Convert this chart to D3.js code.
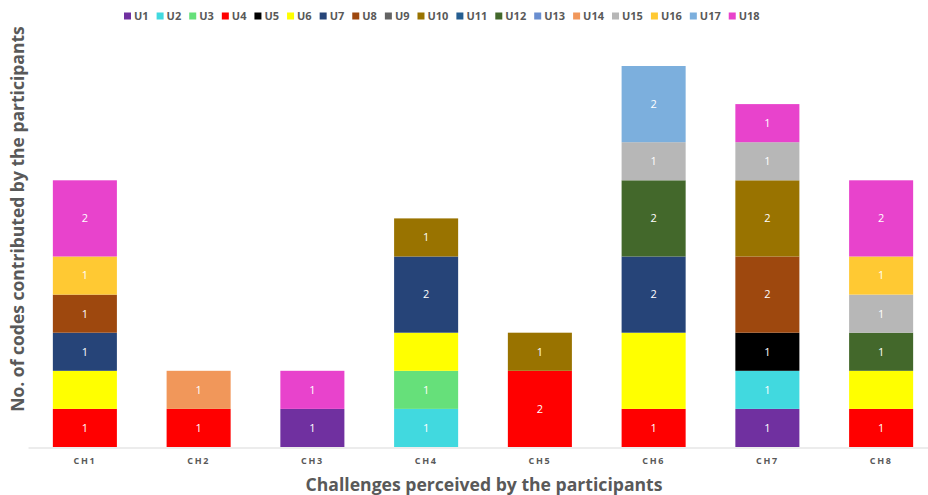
<!DOCTYPE html>
<html>
<head>
<meta charset="utf-8">
<script src="https://cdn.jsdelivr.net/npm/d3@7"></script>
<style>
  body { margin: 0; background: #fff; }
  svg { display: block; font-family: "Open Sans", "Liberation Sans", sans-serif; }
</style>
</head>
<body>
<svg id="chart" width="928" height="495"></svg>
<script>
// Challenges (x categories)
const challenges = ["CH1", "CH2", "CH3", "CH4", "CH5", "CH6", "CH7", "CH8"];
// Participants (stack series, bottom to top)
const participants = ["U1","U2","U3","U4","U5","U6","U7","U8","U9","U10","U11","U12","U13","U14","U15","U16","U17","U18"];
const participantColors = ["#7030A0","#41D9DF","#66E07A","#FF0000","#000000","#FFFF00","#264478","#9E480E","#636363","#997300","#255E91","#43682B","#698ED0","#F1975A","#B7B7B7","#FFC933","#7CAFDD","#E843CC"];

// Codes contributed by each participant, per challenge (CH1..CH8)
const U1  = [0,0,1,0,0,0,1,0];
const U2  = [0,0,0,1,0,0,1,0];
const U3  = [0,0,0,1,0,0,0,0];
const U4  = [1,1,0,0,2,1,0,1];
const U5  = [0,0,0,0,0,0,1,0];
const U6  = [1,0,0,1,0,2,0,1];
const U7  = [1,0,0,2,0,2,0,0];
const U8  = [1,0,0,0,0,0,2,0];
const U9  = [0,0,0,0,0,0,0,0];
const U10 = [0,0,0,1,1,0,2,0];
const U11 = [0,0,0,0,0,0,0,0];
const U12 = [0,0,0,0,0,2,0,1];
const U13 = [0,0,0,0,0,0,0,0];
const U14 = [0,1,0,0,0,0,0,0];
const U15 = [0,0,0,0,0,1,1,1];
const U16 = [1,0,0,0,0,0,0,1];
const U17 = [0,0,0,0,0,2,0,0];
const U18 = [2,0,1,0,0,0,1,2];
const seriesValues = [U1,U2,U3,U4,U5,U6,U7,U8,U9,U10,U11,U12,U13,U14,U15,U16,U17,U18];

const xTitle = "Challenges perceived by the participants";
const yTitle = "No. of codes contributed by the participants";

const table = challenges.map((c, i) => {
  const row = { challenge: c };
  participants.forEach((p, j) => { row[p] = seriesValues[j][i]; });
  return row;
});

const svg = d3.select("#chart");
const grey = "#595959";

const x = d3.scaleBand().domain(challenges).range([28, 938]).paddingInner(0.437).paddingOuter(0.2185);
const y = d3.scaleLinear().domain([0, 10]).range([447, 66]);
const color = d3.scaleOrdinal().domain(participants).range(participantColors);

const stacked = d3.stack().keys(participants)(table);

// Bars
const layers = svg.append("g").selectAll("g")
  .data(stacked).join("g")
  .attr("fill", d => color(d.key));

layers.selectAll("rect")
  .data(d => d.map(s => ({ key: d.key, s })))
  .join("rect")
  .filter(d => d.s[1] - d.s[0] > 0)
  .attr("x", d => x(d.s.data.challenge))
  .attr("y", d => y(d.s[1]))
  .attr("width", x.bandwidth())
  .attr("height", d => y(d.s[0]) - y(d.s[1]));

// Value labels (white, so they vanish on the yellow U6 segments)
const labels = [];
stacked.forEach(layer => layer.forEach(s => {
  const v = s[1] - s[0];
  if (v > 0 && layer.key !== "U6") labels.push({ v, s });
}));
svg.append("g").selectAll("text")
  .data(labels).join("text")
  .attr("x", d => x(d.s.data.challenge) + x.bandwidth() / 2)
  .attr("y", d => (y(d.s[0]) + y(d.s[1])) / 2)
  .attr("dy", "0.35em")
  .attr("text-anchor", "middle")
  .attr("fill", "#fff")
  .attr("font-size", 11)
  .text(d => d.v);

// X axis
const xAxis = svg.append("g")
  .attr("transform", "translate(0,447.5)")
  .call(d3.axisBottom(x).tickSize(0).tickPadding(10));
xAxis.select(".domain").attr("stroke", "#d9d9d9").attr("stroke-width", 1.2);
xAxis.selectAll("text")
  .attr("fill", grey)
  .attr("font-size", 9)
  .attr("font-weight", "bold")
  .attr("letter-spacing", "1.6px")
  .attr("font-family", "'Open Sans', sans-serif");

// Axis titles
svg.append("text")
  .attr("x", 484).attr("y", 491)
  .attr("text-anchor", "middle")
  .attr("fill", grey)
  .attr("font-size", 17.6)
  .attr("font-weight", "bold")
  .text(xTitle);

svg.append("text")
  .attr("transform", "translate(24,219) rotate(-90)")
  .attr("text-anchor", "middle")
  .attr("fill", grey)
  .attr("font-size", 17.5)
  .attr("font-weight", "bold")
  .text(yTitle);

// Legend
const legend = svg.append("g").attr("transform", "translate(124,0)");
let lx = 0;
participants.forEach(p => {
  const g = legend.append("g").attr("transform", `translate(${lx},0)`);
  g.append("rect").attr("x", 0).attr("y", 12.5).attr("width", 7).attr("height", 7).attr("fill", color(p));
  const t = g.append("text").attr("x", 10).attr("y", 20)
    .attr("fill", grey).attr("font-size", 11).attr("font-weight", "bold").text(p);
  lx += 10 + t.node().getComputedTextLength() + 8;
});
</script>
</body>
</html>
